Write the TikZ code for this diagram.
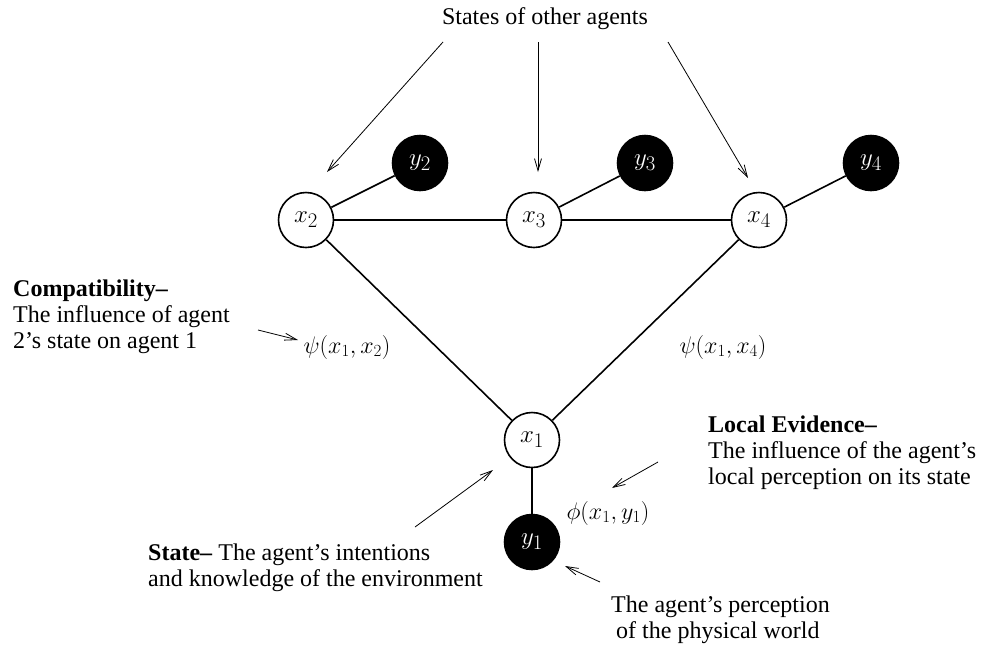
\RequirePackage{fix-cm}
\documentclass[tikz,border=0pt]{standalone}
\usepackage{fontspec}
\setmainfont{Liberation Serif}
\usetikzlibrary{arrows.meta}
\DeclareMathSizes{24}{24}{17}{12}

\begin{document}
\begin{tikzpicture}[x=1pt, y=-1pt, font=\fontsize{24}{26}\selectfont,
  state/.style={circle, draw, line width=1.6pt, minimum size=55pt, inner sep=0pt, fill=white, font=\fontsize{24.88}{26}\selectfont},
  obs/.style={state, fill=black, text=white},
  link/.style={line width=1.6pt},
  pointer/.style={line width=0.8pt, -{Straight Barb[length=12pt,width=7pt]}},
  note/.style={anchor=west, inner sep=0pt, align=left},
  factor/.style={inner sep=0pt, font=\fontsize{24}{26}\selectfont}]
\useasboundingbox (0,0) rectangle (987,646);
% agents and their observations
\node[state] (x1) at (532,440) {$x_1$};
\node[state] (x2) at (306,220) {$x_2$};
\node[state] (x3) at (534,220) {$x_3$};
\node[state] (x4) at (759,220) {$x_4$};
\node[obs] (y1) at (532,542) {$y_1$};
\node[obs] (y2) at (420,163) {$y_2$};
\node[obs] (y3) at (645,163) {$y_3$};
\node[obs] (y4) at (871,163) {$y_4$};
\draw[link] (x2) -- (x3) -- (x4);
\draw[link] (x2) -- (y2);
\draw[link] (x3) -- (y3);
\draw[link] (x4) -- (y4);
\draw[link] (x2) -- (x1) -- (x4);
\draw[link] (x1) -- (y1);
% potentials
\node[factor] (psi12) at (347,347) {$\psi(x_1,x_2)$};
\node[factor] (psi14) at (723,347) {$\psi(x_1,x_4)$};
\node[factor] (phi11) at (608,513) {$\phi(x_1,y_1)$};
% captions
\node[inner sep=0pt] (others) at (545,19) {States of other agents};
\node[note] (compat) at (13,317) {\textbf{Compatibility–}\\The influence of agent\\2’s state on agent 1};
\node[note] (evid) at (708,453) {\textbf{Local Evidence–}\\The influence of the agent’s\\local perception on its state};
\node[note] (statenote) at (148,568) {\textbf{State–} The agent’s intentions\\and knowledge of the environment};
\node[note] (percep) at (611,620) {The agent’s perception\\\hspace{5pt}of the physical world};
% pointers
\coordinate (o2) at (443,42); \coordinate (h2) at (327,172);
\coordinate (o3) at (538,42); \coordinate (h3) at (538,172);
\coordinate (o4) at (668,42); \coordinate (h4) at (748,178);
\draw[pointer] (o2) -- (h2);
\draw[pointer] (o3) -- (h3);
\draw[pointer] (o4) -- (h4);
\coordinate (c0) at (258,330); \coordinate (c1) at (298,340);
\draw[pointer] (c0) -- (c1);
\coordinate (e0) at (658,462); \coordinate (e1) at (612,488);
\draw[pointer] (e0) -- (e1);
\coordinate (s0) at (415,527); \coordinate (s1) at (493,470);
\draw[pointer] (s0) -- (s1);
\coordinate (p0) at (600,582); \coordinate (p1) at (565,566);
\draw[pointer] (p0) -- (p1);
\end{tikzpicture}
\end{document}
